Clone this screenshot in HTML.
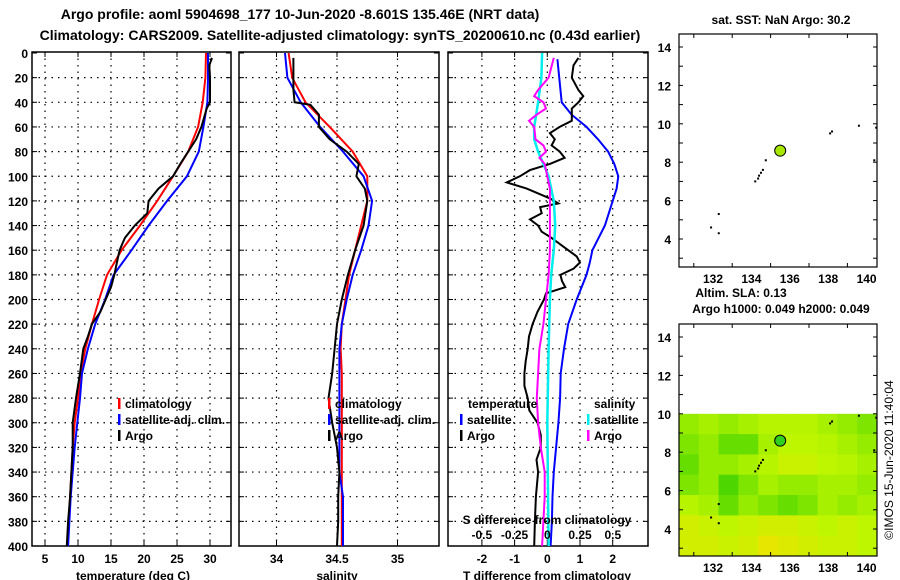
<!DOCTYPE html>
<html><head><meta charset="utf-8"><style>
html,body{margin:0;padding:0;background:#fff;}
svg{display:block;font-family:"Liberation Sans",Arial,sans-serif;font-weight:bold;}
</style></head><body>
<svg id="fig" width="900" height="580" viewBox="0 0 900 580" xmlns="http://www.w3.org/2000/svg">
<text x="300" y="19" font-size="14" text-anchor="middle">Argo profile: aoml 5904698_177 10-Jun-2020 -8.601S 135.46E (NRT data)</text>
<text x="340" y="40" font-size="14" text-anchor="middle">Climatology: CARS2009. Satellite-adjusted climatology: synTS_20200610.nc (0.43d earlier)</text>
<text x="781" y="24" font-size="12" text-anchor="middle">sat. SST: NaN Argo: 30.2</text>
<text x="741" y="297" font-size="12" text-anchor="middle">Altim. SLA: 0.13</text>
<text x="781" y="313" font-size="12" text-anchor="middle">Argo h1000: 0.049 h2000: 0.049</text>
<text transform="translate(893,460) rotate(-90)" font-size="12" font-weight="normal" text-anchor="middle">©IMOS 15-Jun-2020 11:40:04</text>
<g id="plots"></g>
</svg>
<script>
// ---------- data ----------
const depths = [0,20,40,60,80,100,120,140,160,180,200,220,240,260,280,300,320,340,360,380,400];
const tempClim = [29.4,29.3,28.9,28.2,26.7,24.4,22.0,19.4,16.6,14.4,13.2,12.1,11.1,10.4,10.0,9.5,9.2,9.0,8.8,8.6,8.4];
const tempSat = [29.7,29.7,29.6,29.0,28.3,26.5,23.5,20.7,18.1,15.4,14.1,12.6,11.5,10.6,10.3,9.9,9.5,9.2,8.9,8.7,8.5];
const argoDepths = [4,10,20,40,45,60,70,80,90,100,110,120,130,140,150,160,170,180,190,200,210,220,230,240,260,280,300,320,340,360,380,400];
const tempArgo = [30.3,29.9,30.0,30.0,29.5,28.7,27.9,26.7,25.5,24.4,22.2,20.7,20.5,18.6,17.1,16.3,15.9,15.5,15.0,14.2,13.4,12.1,11.5,10.8,10.3,9.7,9.2,9.2,9.0,8.8,8.5,8.3];
const salClim = [34.10,34.13,34.24,34.44,34.63,34.75,34.75,34.70,34.65,34.60,34.57,34.54,34.53,34.54,34.54,34.54,34.54,34.54,34.54,34.54,34.54];
const salSat = [34.07,34.09,34.20,34.36,34.55,34.72,34.79,34.76,34.70,34.63,34.58,34.54,34.52,34.52,34.52,34.52,34.52,34.52,34.55,34.55,34.55];
const salArgoDepths = [4,30,40,42,50,60,70,80,90,100,110,120,140,160,180,200,220,240,260,280,300,320,340,360,380,400];
const salArgo = [34.14,34.14,34.15,34.28,34.35,34.35,34.44,34.58,34.68,34.66,34.73,34.75,34.72,34.65,34.59,34.54,34.50,34.48,34.46,34.43,34.46,34.50,34.52,34.51,34.51,34.50];
const tDiffSatDepths = [5,40,50,60,70,80,90,100,110,120,140,160,170,180,200,220,240,260,280,300,320,340,360,380,400];
const tDiffSat = [0.31,0.44,0.74,1.2,1.55,1.86,2.05,2.17,2.12,2.0,1.76,1.38,1.3,1.2,0.9,0.64,0.51,0.41,0.39,0.34,0.27,0.2,0.16,0.14,0.1];
const tDiffArgoDepths = [4,10,20,30,35,40,45,55,60,65,70,75,80,85,90,95,100,105,110,118,122,125,130,135,140,145,150,160,165,170,175,180,185,190,195,200,210,220,230,240,250,260,270,280,290,300,310,320,330,340,360,380,400];
const tDiffArgo = [0.95,0.8,0.75,0.95,1.1,0.95,0.75,0.75,0.38,0.08,0.23,0.13,0.38,0.53,0.08,-0.53,-0.84,-1.24,-0.63,0.08,0.34,-0.22,-0.17,-0.53,-0.28,-0.17,0.13,0.64,0.9,1.0,0.8,0.4,0.45,0.55,-0.04,-0.1,-0.3,-0.45,-0.56,-0.6,-0.66,-0.7,-0.7,-0.6,-0.55,-0.3,-0.2,-0.2,-0.33,-0.28,-0.35,-0.38,-0.4];
const sDiffSatDepths = [0,20,40,50,60,70,80,90,100,110,120,140,160,170,180,200,240,300,400];
const sDiffSat = [-0.04,-0.045,-0.07,-0.085,-0.1,-0.1,-0.07,-0.03,0.01,0.03,0.05,0.06,0.05,0.04,0.03,0.02,0.01,0.0,0.01];
const sDiffArgoDepths = [4,20,30,35,40,45,50,55,60,70,75,80,85,90,95,100,110,130,160,180,200,220,240,260,280,300,320,340,360,380,400];
const sDiffArgo = [0.05,0.01,-0.07,-0.1,-0.03,-0.01,-0.08,-0.14,-0.1,-0.09,-0.03,-0.01,-0.06,-0.02,-0.01,0.0,0.02,0.02,0.02,0.01,-0.01,-0.03,-0.06,-0.07,-0.08,-0.07,-0.05,-0.02,-0.02,-0.03,-0.04];
const depthTicks = [0,20,40,60,80,100,120,140,160,180,200,220,240,260,280,300,320,340,360,380,400];
const tempTicks = [5,10,15,20,25,30];
const salTicks = [34,34.5,35];
const tDiffTicks = [-2,-1,0,1,2];
const sDiffTicks = [-0.5,-0.25,0,0.25,0.5];
const latTicks = [4,6,8,10,12,14];
const lonTicks = [132,134,136,138,140];
const argoPos = [135.5,8.6];
const slaRow0 = [0.5,0.6,0.5,0.6,0.7,0.7,0.7,0.6,0.5,0.4];
const slaRow1 = [0.4,0.5,0.3,0.3,0.6,0.75,0.75,0.7,0.6,0.5];
const slaRow2 = [0.3,0.5,0.5,0.6,0.7,0.8,0.8,0.75,0.7,0.6];
const slaRow3 = [0.4,0.5,0.2,0.4,0.6,0.5,0.5,0.6,0.6,0.5];
const slaRow4 = [0.7,0.6,0.3,0.5,0.4,0.3,0.4,0.6,0.5,0.6];
const slaRow5 = [0.85,0.8,0.75,0.8,0.85,0.85,0.8,0.75,0.8,0.75];
const slaRow6 = [0.85,0.85,0.8,0.85,0.95,0.9,0.85,0.8,0.8,0.75];

// ---------- helpers ----------
const NS="http://www.w3.org/2000/svg";
const root=document.getElementById('plots');
function mk(tag,attrs,parent){const e=document.createElementNS(NS,tag);for(const k in attrs)e.setAttribute(k,attrs[k]);(parent||root).appendChild(e);return e;}
const Y0=53, YS=1.2325, PT=52, PB=546;
const yD=d=>Y0+d*YS;
const xT=t=>45+(t-5)*6.6;
const xS=s=>337+(s-34.5)*121;
const xTD=t=>547.3+t*32.7;
const xSD=s=>547.3+s*131;

function panel(name,x0,x1,xt,ticks){
  const g=mk('g',{});
  
  
  depthTicks.forEach(d=>{if(d>0&&d<400)mk('line',{x1:x0,x2:x1,y1:yD(d),y2:yD(d),stroke:'#000','stroke-width':1.2,'stroke-dasharray':'1.5,5'},g);
    mk('line',{x1:x0,x2:x0+5,y1:yD(d),y2:yD(d),stroke:'#000'},g);mk('line',{x1:x1-5,x2:x1,y1:yD(d),y2:yD(d),stroke:'#000'},g);});
  ticks.forEach(v=>{const x=xt(v);mk('line',{x1:x,x2:x,y1:PT,y2:PB,stroke:'#000','stroke-width':1.2,'stroke-dasharray':'1.5,5'},g);
    mk('line',{x1:x,x2:x,y1:PB-5,y2:PB,stroke:'#000'},g);mk('line',{x1:x,x2:x,y1:PT,y2:PT+5,stroke:'#000'},g);});
  mk('rect',{x:x0,y:PT,width:x1-x0,height:PB-PT,fill:'none',stroke:'#000','stroke-width':1.5},g);
  return g;
}
function line(name,xs,ds,fx,color,w){
  const p=xs.map((v,i)=>(i?'L':'M')+fx(v).toFixed(1)+','+yD(ds[i]).toFixed(1)).join('');
  const e=mk('path',{d:p,fill:'none',stroke:color,'stroke-width':w||2});
  
  
  return e;
}
function txt(name,x,y,s,size,anchor,parent){const e=mk('text',{x:x,y:y,'font-size':size||12,'text-anchor':anchor||'start'},parent);e.textContent=s;
  
  
  return e;}
function legBar(x,y,color){mk('rect',{x:x,y:y-10,width:2.5,height:11,fill:color});}

// ---------- panel 1: temperature ----------
panel('temperature-panel',32,231,xT,tempTicks);
depthTicks.forEach(d=>txt('depth-tick-label',28,yD(d)+5,String(d),12,'end'));
tempTicks.forEach(v=>txt('temp-tick-label',xT(v),563,String(v),12,'middle'));
txt('x-axis-title-temperature',133,580,'temperature (deg C)',12,'middle');
line('temp-climatology-line',tempClim,depths,xT,'#f00',2);
line('temp-satellite-line',tempSat,depths,xT,'#00f',2);
line('temp-argo-line',tempArgo,argoDepths,xT,'#000',2);
legBar(118,408,'#f00');txt('legend-climatology',125,408,'climatology');
legBar(118,424,'#00f');txt('legend-satellite-adj',125,424,'satellite-adj. clim.');
legBar(118,440,'#000');txt('legend-argo',125,440,'Argo');

// ---------- panel 2: salinity ----------
panel('salinity-panel',239,439,xS,salTicks);
salTicks.forEach(v=>txt('sal-tick-label',xS(v),563,String(v),12,'middle'));
txt('x-axis-title-salinity',337,580,'salinity',12,'middle');
line('sal-climatology-line',salClim,depths,xS,'#f00',2);
line('sal-satellite-line',salSat,depths,xS,'#00f',2);
line('sal-argo-line',salArgo,salArgoDepths,xS,'#000',2);
legBar(328,408,'#f00');txt('legend-climatology-sal',335,408,'climatology');
legBar(328,424,'#00f');txt('legend-satellite-adj-sal',335,424,'satellite-adj. clim.');
legBar(328,440,'#000');txt('legend-argo-sal',335,440,'Argo');

// ---------- panel 3: differences ----------
panel('difference-panel',448,648,xTD,tDiffTicks);
line('t-diff-satellite-line',tDiffSat,tDiffSatDepths,xTD,'#00f',2);
line('t-diff-argo-line',tDiffArgo,tDiffArgoDepths,xTD,'#000',2);
line('s-diff-satellite-line',sDiffSat,sDiffSatDepths,xSD,'#0ee',2.5);
line('s-diff-argo-line',sDiffArgo,sDiffArgoDepths,xSD,'#f0f',2);
tDiffTicks.forEach(v=>txt('t-diff-tick-label',xTD(v),563,String(v),12,'middle'));
sDiffTicks.forEach(v=>txt('s-diff-tick-label',xSD(v),539,String(v),12,'middle'));
txt('s-diff-axis-title',547,524,'S difference from climatology',12,'middle');
txt('t-diff-axis-title',547,580,'T difference from climatology',12,'middle');
txt('legend-temperature-header',468,408,'temperature');
legBar(460,424,'#00f');txt('legend-t-satellite',467,424,'satellite');
legBar(460,440,'#000');txt('legend-t-argo',467,440,'Argo');
txt('legend-salinity-header',594,408,'salinity');
legBar(587,424,'#0ee');txt('legend-s-satellite',594,424,'satellite');
legBar(587,440,'#f0f');txt('legend-s-argo',594,440,'Argo');

// ---------- maps ----------
const xL=lon=>713+(lon-132)*19.2;
function map(name,top,bottom,lat14,field){
  const yL=lat=>lat14+(14-lat)*19.2;
  const g=mk('g',{});
  
  
  if(field){
    const rows=[slaRow0,slaRow1,slaRow2,slaRow3,slaRow4,slaRow5,slaRow6];
    const col=v=>{const st=[[0,[30,200,0]],[0.5,[150,236,0]],[0.75,[190,246,0]],[1,[240,226,0]]];
      for(let i=1;i<st.length;i++)if(v<=st[i][0]){const a=st[i-1],b=st[i],t=(v-a[0])/(b[0]-a[0]);return 'rgb('+a[1].map((c,k)=>Math.round(c+(b[1][k]-c)*t)).join(',')+')';}return 'rgb(240,226,0)';};
    const ytop=yL(10), nR=rows.length, nC=rows[0].length;
    const cw=198/nC, rh=(bottom-ytop)/nR;
    rows.forEach((r,ri)=>r.forEach((v,ci)=>{
      const c=mk('rect',{x:679+ci*cw,y:ytop+ri*rh,width:cw+0.5,height:rh+0.5,fill:col(v)},g);
      
      
    }));
  }
  [[134.2,7.0],[134.4,7.3],[134.6,7.6],[134.35,7.15],[134.5,7.45],[134.75,8.1],[138.1,9.5],[138.2,9.6],[139.6,9.9],[140.4,8.1],[132.3,5.3],[131.9,4.6],[132.3,4.3],[140.5,9.8]].forEach(p=>mk('rect',{x:xL(p[0])-1,y:yL(p[1])-1,width:2,height:2,fill:'#000'},g));
  mk('rect',{x:679,y:top,width:198,height:bottom-top,fill:'none',stroke:'#000','stroke-width':1.2},g);
  for(let la=3;la<=14;la++){mk('line',{x1:679,x2:683,y1:yL(la),y2:yL(la),stroke:'#000'},g);mk('line',{x1:873,x2:877,y1:yL(la),y2:yL(la),stroke:'#000'},g);}
  latTicks.forEach(la=>txt('lat-tick-label',671,yL(la)+5,String(la),12,'end',g));
  for(let lo=131;lo<=140;lo+=2){mk('line',{x1:xL(lo),x2:xL(lo),y1:top,y2:top+4,stroke:'#000'},g);mk('line',{x1:xL(lo),x2:xL(lo),y1:bottom-4,y2:bottom,stroke:'#000'},g);}
  lonTicks.forEach(lo=>txt('lon-tick-label',xL(lo),bottom+16,String(lo),12,'middle',g));
  const dot=mk('circle',{cx:xL(argoPos[0]),cy:yL(argoPos[1]),r:5.5,fill:field?'#30d020':'#a8e800',stroke:'#000','stroke-width':1},g);
  
  
}
map('sst-map',34,267,47,false);
map('sla-map',324,556,337,true);
</script>
</body></html>
